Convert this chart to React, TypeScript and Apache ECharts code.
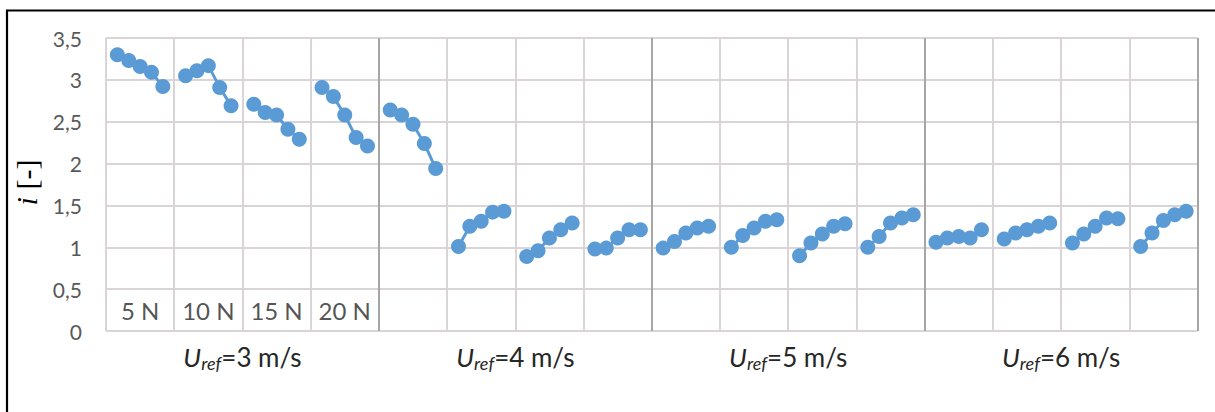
import React, { useEffect, useRef } from "react";
import * as echarts from "echarts";

// Categories
const speeds = ["3", "4", "5", "6"];
const forces = ["5 N", "10 N", "15 N", "20 N"];
const yTickLabels = ["0", "0,5", "1", "1,5", "2", "2,5", "3", "3,5"];

// Series values (i [-]) per speed / force group, 5 points each
const u3_5N = [3.3, 3.23, 3.16, 3.09, 2.92];
const u3_10N = [3.05, 3.11, 3.17, 2.91, 2.69];
const u3_15N = [2.71, 2.61, 2.58, 2.41, 2.29];
const u3_20N = [2.91, 2.8, 2.58, 2.31, 2.21];
const u4_5N = [2.64, 2.58, 2.47, 2.24, 1.94];
const u4_10N = [1.01, 1.25, 1.31, 1.42, 1.43];
const u4_15N = [0.89, 0.96, 1.11, 1.21, 1.29];
const u4_20N = [0.98, 0.99, 1.11, 1.21, 1.21];
const u5_5N = [0.99, 1.07, 1.17, 1.23, 1.25];
const u5_10N = [1.0, 1.14, 1.23, 1.31, 1.33];
const u5_15N = [0.9, 1.05, 1.16, 1.25, 1.28];
const u5_20N = [1.0, 1.13, 1.29, 1.35, 1.39];
const u6_5N = [1.06, 1.11, 1.13, 1.11, 1.21];
const u6_10N = [1.1, 1.17, 1.21, 1.25, 1.29];
const u6_15N = [1.05, 1.16, 1.25, 1.35, 1.34];
const u6_20N = [1.01, 1.17, 1.32, 1.39, 1.43];

const groups = [
  u3_5N, u3_10N, u3_15N, u3_20N,
  u4_5N, u4_10N, u4_15N, u4_20N,
  u5_5N, u5_10N, u5_15N, u5_20N,
  u6_5N, u6_10N, u6_15N, u6_20N,
];

const SLOTS = 6; // 5 measurements + 1 gap per group
const BLUE = "#5b9bd5";
const FONT = "Lato";

export default function App() {
  const ref = useRef<HTMLDivElement>(null);

  useEffect(() => {
    const chart = echarts.init(ref.current!, null, { renderer: "svg" });

    const lineSeries = groups.map((vals, g) => ({
      type: "line",
      xAxisIndex: 0,
      yAxisIndex: 0,
      data: vals.map((v, k) => [g * SLOTS + k + 1, v]),
      symbol: "circle",
      symbolSize: 15,
      showSymbol: true,
      lineStyle: { color: BLUE, width: 3 },
      itemStyle: { color: BLUE },
      z: 5,
      silent: true,
    }));

    const forceLabels = {
      type: "scatter",
      xAxisIndex: 0,
      yAxisIndex: 0,
      data: forces.map((_, g) => [g * SLOTS + SLOTS / 2, 0.25]),
      symbolSize: 1,
      itemStyle: { color: "rgba(0,0,0,0)" },
      silent: true,
      label: {
        show: true,
        position: "inside",
        formatter: (p: any) => forces[p.dataIndex],
        fontFamily: FONT,
        fontSize: 24,
        color: "#262626",
      },
      z: 6,
    };

    const option: any = {
      animation: false,
      backgroundColor: "#ffffff",
      grid: { left: 106, right: 17.5, top: 38, bottom: 81, outerBoundsMode: "none" },
      xAxis: [
        {
          type: "value",
          min: 0,
          max: groups.length * SLOTS,
          interval: SLOTS,
          axisLabel: { show: false },
          axisTick: { show: false },
          axisLine: { show: false },
          splitLine: {
            show: true,
            showMinLine: true,
            showMaxLine: false,
            lineStyle: { color: "#d9d4d7", width: 2 },
          },
        },
        {
          type: "category",
          data: speeds,
          position: "bottom",
          boundaryGap: true,
          axisTick: { show: false },
          axisLine: { show: false },
          splitLine: {
            show: true,
            showMinLine: false,
            showMaxLine: true,
            lineStyle: { color: "#a6a6a6", width: 2 },
          },
          axisLabel: {
            margin: 10,
            interval: 0,
            formatter: (v: string) => `{u|U}{s|ref}{t|=${v} m/s}`,
            rich: {
              u: { fontFamily: FONT, fontStyle: "italic", fontSize: 26, color: "#262626" },
              s: { fontFamily: FONT, fontStyle: "italic", fontSize: 18, color: "#262626", padding: [13, 0, 0, 0] },
              t: { fontFamily: FONT, fontSize: 26, color: "#262626" },
            },
          },
        },
      ],
      yAxis: {
        type: "value",
        min: 0,
        max: 3.5,
        interval: 0.5,
        axisLine: { show: false },
        axisTick: { show: false },
        axisLabel: {
          margin: 24,
          color: "#595959",
          fontFamily: FONT,
          fontSize: 21,
          formatter: (v: number) => yTickLabels[Math.round(v / 0.5)] ?? String(v),
        },
        splitLine: { show: true, lineStyle: { color: "#d9d4d7", width: 2 } },
        name: "{it|i} {n|[-]}",
        nameLocation: "middle",
        nameRotate: 90,
        nameGap: 58,
        nameTextStyle: {
          fontFamily: "Liberation Serif",
          fontSize: 30,
          color: "#000",
          padding: [0, 0, 0, 4],
          rich: {
            it: { fontFamily: "Liberation Serif", fontStyle: "italic", fontSize: 30, color: "#000" },
            n: { fontFamily: "Liberation Serif", fontSize: 30, color: "#000" },
          },
        },
      },
      graphic: [
        {
          type: "rect",
          shape: { x: 7, y: 10.5, width: 1400, height: 600 },
          style: { fill: "none", stroke: "#000", lineWidth: 2.2 },
          silent: true,
          z: 100,
        },
      ],
      series: [...lineSeries, forceLabels],
    };

    chart.setOption(option);
    return () => chart.dispose();
  }, []);

  return (
    <div
      ref={ref}
      style={{ position: "fixed", left: 0, top: 0, width: 1215, height: 412, background: "#fff" }}
    />
  );
}
